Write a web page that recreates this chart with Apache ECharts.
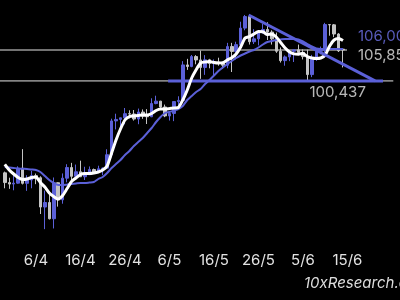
<!DOCTYPE html>
<html>
<head>
<meta charset="utf-8">
<script src="https://cdn.jsdelivr.net/npm/echarts@6/dist/echarts.min.js"></script>
<style>
html,body{margin:0;padding:0;background:#000;}
#chart{width:400px;height:300px;}
</style>
</head>
<body>
<div id="chart"></div>
<script>
// ---- data ----
const dates = ['30/3','31/3',
 '1/4','2/4','3/4','4/4','5/4','6/4','7/4','8/4','9/4','10/4','11/4','12/4','13/4','14/4','15/4',
 '16/4','17/4','18/4','19/4','20/4','21/4','22/4','23/4','24/4','25/4','26/4','27/4','28/4','29/4','30/4',
 '1/5','2/5','3/5','4/5','5/5','6/5','7/5','8/5','9/5','10/5','11/5','12/5','13/5','14/5','15/5','16/5',
 '17/5','18/5','19/5','20/5','21/5','22/5','23/5','24/5','25/5','26/5','27/5','28/5','29/5','30/5','31/5',
 '1/6','2/6','3/6','4/6','5/6','6/6','7/6','8/6','9/6','10/6','11/6','12/6','13/6','14/6'];

const opens = [84350,82650,82390,82550,85160,82520,83100,83860,83500,78370,79160,76320,82620,79630,83420,85280,
 83740,84540,83670,84030,84930,84450,85060,85170,87520,93440,93700,93980,94710,94650,93770,94990,94270,94170,
 96480,96900,95880,94310,94750,96830,97030,103240,102970,104700,104110,102800,104130,103500,103760,103550,103190,
 106450,105600,106790,109680,111700,107300,107800,109000,109440,108990,107800,105640,103990,104640,105650,105880,
 105430,104700,101550,104400,105650,105750,110300,110250,108650,106000];
const closes = [82650,82390,82550,85160,82520,83100,83860,83500,78370,79160,76320,82620,79630,83420,85280,83740,
 84540,83670,84030,84930,84450,85060,85170,87520,93440,93700,93980,94710,94650,93770,94990,94270,94170,96480,
 96900,95880,94310,94750,96830,97030,103240,102970,104700,104110,102800,104130,103500,103760,103550,103190,106450,
 105600,106790,109680,111700,107300,107800,109000,109440,108990,107800,105640,103990,104640,105650,105880,105430,
 104700,101550,104400,105650,105750,110300,110250,108650,105700,105850];
const highs = [84570,83500,83940,85500,88500,83940,84700,84230,83750,81240,80850,83540,82700,84250,85860,86100,
 85800,86480,85420,85470,85100,85600,85300,88480,93830,94700,94000,95700,95300,95350,95600,95450,95500,97400,
 97850,96950,96300,95190,96900,97750,103900,104300,104980,104950,105750,104950,104300,104200,104500,103700,107100,
 107100,107300,110800,111980,111800,109500,109300,110400,110700,109300,108900,106300,104900,105850,105950,106800,
 105950,105900,105000,105900,106450,110600,110400,110400,108800,106200];
const lows = [81650,81550,81300,82450,82320,81200,81650,82370,77150,74500,76200,74620,78440,78950,82700,83030,
 83680,83610,83100,83990,84380,84380,83950,85140,87070,91950,91700,92850,93900,93500,92860,93800,92900,94100,
 96350,95750,94100,93500,93400,95800,96900,102370,102830,103350,100800,101500,102650,101400,103100,102600,102650,
 102000,104200,106100,109300,106800,106900,106650,108700,107600,106800,105350,103650,103100,103900,103750,104950,
 104200,100400,101100,103950,105100,105350,108350,108100,105500,102800];

// short moving average (white) and longer moving average (blue)
const whiteMA = [85845,84850,84150,83540,83190,83275,83540,83625,82660,81875,80825,80210,79775,80390,81610,82840,
 83450,84060,84240,84240,84325,84500,84850,85550,87825,90100,92025,93600,94210,94300,94390,94475,94475,94740,
 95260,95525,95525,95610,95700,95790,97100,98850,100950,102400,103575,103750,103855,103660,103575,103630,104100,
 104500,105150,106375,107950,108210,108650,109090,109050,108560,108615,108125,107160,106200,105500,105170,105115,
 105240,104710,104450,104360,104450,104975,106550,107600,107860,107510];
const blueMA = [85375,85290,85200,85110,85060,85025,84940,84850,84500,83800,83100,82575,82225,82225,82310,82400,
 82490,82575,82575,82660,82750,83275,83625,84325,85200,85900,86600,87475,88175,89050,89750,90450,91325,92200,
 93250,94125,94825,95000,95260,95525,96050,97100,97800,98500,99025,99900,100600,101390,102175,102790,103400,
 103925,104450,104890,105240,105590,105850,106290,106810,107250,107425,107600,107690,107775,107775,107775,107690,
 107340,106900,106460,106110,106025,106025,106025,106025,106010,106005];

const tickLabels = ['6/4','16/4','26/4','6/5','16/5','26/5','5/6','15/6'];
const lastPrice = 105850;
const supportLevel = 100437;
const trendHigh = 111975;
const levelLabels = ['106,00','105,85','100,437'];
const watermark = '10xResearch.com';

// ---- helpers ----
function dayOffset(s){
  const p = s.split('/').map(Number);
  return (Date.UTC(2025, p[1]-1, p[0]) - Date.UTC(2025, 2, 30)) / 86400000;
}
const BLUE = '#5b60d8';
const GREY = '#c4c4c4';
const FONT = 'Inter, "Noto Sans", sans-serif';

const xs = dates.map(dayOffset);
const tickDays = tickLabels.map(dayOffset);
const candleData = dates.map((s,i)=>[xs[i], opens[i], closes[i], lows[i], highs[i]]);
const whiteData = xs.map((x,i)=>[x, whiteMA[i]]);
const blueData = xs.map((x,i)=>[x, blueMA[i]]);

const pxPerDay = 4.45;
const xMin = -4.8 / pxPerDay;
const xMax = xMin + 400 / pxPerDay;
const lastX = xs[xs.length-1];

const chart = echarts.init(document.getElementById('chart'), null, {renderer:'canvas'});
chart.setOption({
  backgroundColor: '#000',
  animation: false,
  grid: {left: 0, right: 0, top: 0, height: 240},
  xAxis: {
    type: 'value', min: xMin, max: xMax,
    axisLine: {show:false}, axisTick: {show:false}, splitLine: {show:false},
    axisLabel: {
      customValues: tickDays,
      color: '#e2e2e2', fontSize: 15, fontFamily: FONT, margin: 13,
      formatter: v => { const k = tickDays.findIndex(t => Math.abs(t - v) < 0.01); return k >= 0 ? tickLabels[k] : ''; }
    }
  },
  yAxis: {type: 'value', min: 72600, max: 114600, show: false, splitLine: {show:false}},
  series: [
    {type:'line', data:[[xMin,lastPrice],[lastX+0.9,lastPrice]], showSymbol:false, silent:true,
     lineStyle:{color:'#e6e6e6', width:1}, z:1},
    {type:'line', data:[[xMin,supportLevel],[lastX+11.3,supportLevel]], showSymbol:false, silent:true,
     lineStyle:{color:'#e6e6e6', width:1}, z:1},
    {type:'candlestick', data:candleData, encode:{x:0, y:[1,2,3,4]}, barWidth:3,
     itemStyle:{color:BLUE, color0:GREY, borderColor:BLUE, borderColor0:GREY, borderWidth:1}, z:2},
    {type:'line', data:[[36.7,supportLevel],[lastX+9,supportLevel]], showSymbol:false, silent:true,
     lineStyle:{color:BLUE, width:3}, z:3},
    {type:'line', data:blueData, showSymbol:false, lineStyle:{color:BLUE, width:2}, smooth:0.2, z:4},
    {type:'line', data:whiteData, showSymbol:false, lineStyle:{color:'#ffffff', width:3}, smooth:0.2, z:5},
    {type:'line', data:[[54.8,trendHigh],[83.2,supportLevel]], showSymbol:false, silent:true,
     lineStyle:{color:BLUE, width:3}, z:6},
    {type:'scatter', symbolSize:0, silent:true, z:7,
     data:[
       {value:[lastX, blueMA[blueMA.length-1]], label:{show:true, formatter:levelLabels[0], color:'#6e72e8', position:[15,-13]}},
       {value:[lastX+0.9, lastPrice], label:{show:true, formatter:levelLabels[1], color:'#e6e6e6', position:[11,5]}},
       {value:[74.8, supportLevel], label:{show:true, formatter:levelLabels[2], color:'#e6e6e6', position:[0,12], align:'center'}}
     ],
     label:{fontSize:15, fontFamily:FONT, align:'left', verticalAlign:'middle'}
    }
  ],
  graphic: [{
    type:'text', left:304, top:276,
    style:{text:watermark, fill:'#dedede', font:'italic 15px ' + FONT}
  }]
});
</script>
</body>
</html>
